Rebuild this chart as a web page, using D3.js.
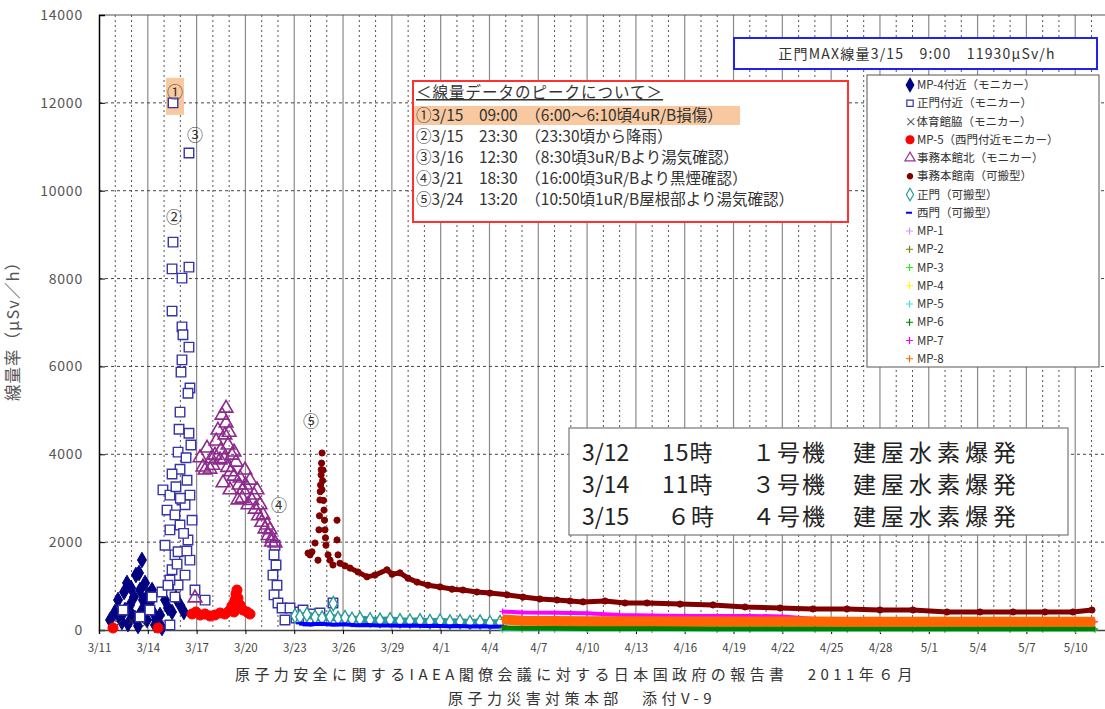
<!DOCTYPE html>
<html>
<head>
<meta charset="utf-8">
<title>線量率</title>
<script src="https://cdn.jsdelivr.net/npm/d3@7"></script>
<style>
  body { margin: 0; background: #fff; }
  text { font-family: "Noto Sans CJK JP", "Liberation Sans", sans-serif; }
</style>
</head>
<body>
<script>
// days are counted from 3/11 00:00, values in μSv/h
const xTickDays = [0, 3, 6, 9, 12, 15, 18, 21, 24, 27, 30, 33, 36, 39, 42, 45, 48, 51, 54, 57, 60];
const xTickLabels = ["3/11","3/14","3/17","3/20","3/23","3/26","3/29","4/1","4/4","4/7","4/10",
                     "4/13","4/16","4/19","4/22","4/25","4/28","5/1","5/4","5/7","5/10"];
const yTicks = [0, 2000, 4000, 6000, 8000, 10000, 12000, 14000];

// MP-4付近(モニカー)
const mp4Monitor = [[0.68,228],[0.98,410],[1.17,683],[1.29,273],[1.41,182],[1.54,865],[1.6,455],[1.72,1070],
  [1.78,137],[1.91,569],[1.97,956],[2.03,341],[2.15,751],[2.21,273],[2.27,1252],[2.40,91],[2.46,1298],
  [2.52,910],[2.58,410],[2.64,1593],[2.70,683],[2.83,1070],[2.89,455],[2.95,228],[3.01,797],[3.13,615],
  [3.26,910],[3.32,410],[3.44,114],[3.50,228],[3.75,341],[3.87,46],[4.06,683],[4.24,501],[4.49,410],
  [4.73,728],[4.98,569],[5.22,410]];

// 正門付近(モニカー)
const seimonMonitor = [[1.48,455],[2.52,296],[3.13,455],[3.26,751],[3.87,865],[4.36,114],[4.67,751],[4.86,1024],
  [4.36,1138],[4.55,12000],[5.53,10860],[4.55,8830],[4.49,8220],[5.53,8260],[5.10,8010],[4.49,7260],
  [5.10,6900],[5.16,6720],[5.53,6440],[5.10,6150],[5.04,5870],[5.59,5510],[5.47,5390],[4.98,4960],
  [4.92,4570],[5.53,4480],[5.65,4210],[4.86,4050],[5.35,3920],[4.98,3660],[4.49,3550],[5.41,3410],
  [3.93,3190],[4.36,3070],[4.73,3260],[5.10,2960],[5.59,3070],[4.18,2730],[4.67,2620],[5.29,2850],
  [5.72,2500],[4.36,2280],[4.98,2390],[5.47,2050],[4.06,1930],[4.67,1710],[4.86,1780],[5.59,1590],
  [4.49,1370],[5.29,1250],[4.24,1020],[5.90,910],[6.52,680],[5.0,3000],[5.2,2200],[4.8,1500],[5.4,1800],
  [10.82,1930],[10.76,1710],[10.88,1480],[10.69,1250],[10.94,1020],[10.76,800],[11.0,615],[11.25,500],
  [11.74,500],[12.35,410],[12.54,455],[13.09,364],[13.58,387],[14.38,615],[12.11,273],[11.43,228],[12.85,205]];

// 体育館脇(モニカー)
const taiikukan = [[1.2,150],[2.0,200],[2.8,120],[3.6,90]];

// MP-5(西門付近モニカー)
const mp5Monitor = [[0.86,46],[3.63,46],[5.72,364],[5.96,410],[6.21,341],[6.52,364],[6.82,319],[7.13,341],
  [7.44,387],[7.74,364],[7.99,432],[8.17,546],[8.30,410],[8.36,683],[8.42,820],[8.48,910],[8.54,728],
  [8.67,569],[8.85,455],[9.10,410],[9.28,364]];

// 事務本館北(モニカー)
const honkanKita = [[5.90,730],[6.21,3920],[6.39,3710],[6.52,3640],[6.64,4140],[6.82,3660],[6.9,3900],
  [7.0,3750],[7.13,3980],[7.2,4300],[7.31,4550],[7.44,3870],[7.5,4100],[7.56,4890],[7.62,3350],[7.7,3900],
  [7.74,4440],[7.81,4710],[7.81,5050],[7.9,3700],[7.93,4210],[8.0,4500],[8.05,3190],[8.1,3600],
  [8.17,3980],[8.3,3500],[8.3,4050],[8.42,3820],[8.54,2960],[8.6,3300],[8.67,3460],[8.8,3000],
  [8.85,3190],[8.97,3640],[9.0,3300],[9.16,2850],[9.28,3410],[9.4,2950],[9.53,3070],[9.6,2750],
  [9.71,3190],[9.8,2600],[9.90,2850],[10.0,2450],[10.08,2620],[10.2,2300],[10.33,2390],[10.4,2150],
  [10.51,2280],[10.6,2000],[10.63,2090],[10.82,1980]];

// 事務本館南(可搬型)
const honkanMinami = [[12.85,1750],[12.97,1710],[13.09,1780],[13.28,1980],[13.46,1590],[13.52,2280],
  [13.55,2600],[13.58,2960],[13.60,3150],[13.62,3300],[13.65,3530],[13.66,3650],[13.68,3800],[13.71,4030],
  [13.74,3400],[13.77,3640],[13.71,3190],[13.80,2950],[13.83,2730],[13.86,2500],[13.89,2280],[13.92,2100],
  [13.95,1930],[14.08,1710],[14.20,1590],[14.38,1480],[14.63,2500],[14.63,2050],[14.69,1710],[14.81,1520],
  [15.12,1460],[15.43,1410],[15.92,1320],[16.47,1210],[16.96,1250],[17.70,1370],[18.01,1270],[18.50,1300],
  [18.99,1180],[19.55,1090],[20.22,1020],[20.96,980],[21.70,930],[22.37,910],[23.23,865],[24.03,840],
  [25.08,800],[26.06,750],[27.10,706],[28.15,683],[28.95,660],[29.75,640],[31.10,660],[32.33,615],
  [33.68,615],[35.71,590],[37.74,570],[39.71,524],[41.86,500],[43.88,478],[45.97,478],[48.00,455],
  [50.03,455],[52.12,410],[54.15,410],[56.18,410],[58.14,410],[59.86,410],[61.03,455]];

// 正門(可搬型)
const seimonPortable = [[12.05,320],[12.35,300],[12.78,350],[13.28,290],[13.71,270],[14.2,300],[14.4,600],
  [14.69,260],[15.12,280],[15.55,240],[16.04,250],[16.66,230],[17.27,220],[17.89,230],[18.5,210],
  [19.11,200],[19.73,210],[20.34,190],[20.96,200],[21.57,180],[22.19,190],[22.8,170],[23.42,180],
  [24.03,160],[24.65,170]];

// 西門(可搬型)
const nishimonPortable = [[12.3,150],[13.0,130],[13.7,140],[14.4,120],[15.1,130],[15.8,110],[16.5,115],
  [17.2,100],[17.9,105],[18.6,95],[19.3,100],[20.0,90],[20.7,95],[21.4,85],[22.1,90],[22.8,80],
  [23.5,85],[24.2,75],[24.9,80]];

// MP-1 ~ MP-8 (from 4/4)
const mpDays = [24.8, 26, 28, 30, 32, 34, 36, 38, 40, 42, 44, 46, 48, 50, 52, 54, 56, 58, 60, 61.2];
const mp1 = [10, 9, 9, 8, 8, 8, 8, 7, 7, 7, 7, 7, 7, 6, 6, 6, 6, 6, 6, 6];
const mp2 = [14, 13, 12, 12, 12, 11, 11, 11, 10, 10, 10, 10, 10, 9, 9, 9, 9, 9, 9, 9];
const mp3 = [22, 20, 20, 19, 18, 18, 17, 17, 16, 16, 16, 15, 15, 15, 15, 14, 14, 14, 14, 14];
const mp4 = [30, 28, 26, 25, 24, 22, 22, 21, 20, 20, 19, 19, 18, 18, 18, 17, 17, 17, 17, 17];
const mp5 = [18, 17, 16, 16, 15, 15, 14, 14, 14, 13, 13, 13, 12, 12, 12, 12, 12, 11, 11, 11];
const mp6 = [45, 40, 38, 36, 34, 33, 32, 31, 30, 30, 29, 29, 28, 28, 27, 27, 26, 26, 26, 26];
const mp7 = [420, 400, 390, 380, 340, 330, 320, 320, 320, 310, 250, 240, 230, 220, 210, 210, 200, 200, 190, 190];
const mp8 = [240, 210, 205, 200, 200, 198, 196, 195, 194, 193, 192, 190, 190, 188, 188, 186, 186, 185, 185, 185];

// legend
const legendNames = ["MP-4付近（モニカー）","正門付近（モニカー）","×体育館脇（モニカー）","MP-5（西門付近モニカー）",
  "事務本館北（モニカー）","事務本館南（可搬型）","正門（可搬型）","西門（可搬型）",
  "MP-1","MP-2","MP-3","MP-4","MP-5","MP-6","MP-7","MP-8"];
const mpColors = ["#cc99ff","#808000","#22ee22","#ffff00","#44dddd","#008000","#ff00ff","#ff6600"];

// peak notes
const peakMarks = [["①",4.67,12250],["②",4.61,9400],["③",5.9,11270],["④",11.06,2850],["⑤",13.03,4760]];
const noteLines = ["①3/15　09:00　（6:00〜6:10頃4uR/B損傷）","②3/15　23:30　（23:30頃から降雨）",
  "③3/16　12:30　（8:30頃3uR/Bより湯気確認）","④3/21　18:30　（16:00頃3uR/Bより黒煙確認）",
  "⑤3/24　13:20　（10:50頃1uR/B屋根部より湯気確認）"];
const blastRows = [["3/12","15時","１号機","建屋水素爆発"],["3/14","11時","３号機","建屋水素爆発"],["3/15","６時","４号機","建屋水素爆発"]];

const W = 1105, H = 709;
const svg = d3.select("body").append("svg").attr("width", W).attr("height", H);

const x = d3.scaleLinear().domain([0, 62]).range([99, 99 + 62 * 16.27]);
const y = d3.scaleLinear().domain([0, 14000]).range([630, 15]);

// grid : a line per day, solid every 3 days
const grid = svg.append("g");
d3.range(1, 62).forEach(function(d) {
  let solid = d % 3 == 0;
  grid.append("line")
    .attr("x1", x(d)).attr("x2", x(d)).attr("y1", y(14000)).attr("y2", y(0))
    .attr("stroke", solid ? "#8a8a8a" : "#555")
    .attr("stroke-width", solid ? 1.2 : 1)
    .attr("stroke-dasharray", solid ? null : "2,3");
});
yTicks.slice(1, -1).forEach(function(v) {
  grid.append("line")
    .attr("x1", x(0)).attr("x2", W).attr("y1", y(v)).attr("y2", y(v))
    .attr("stroke", "#444").attr("stroke-dasharray", "3,3");
});
// top frame
grid.append("line").attr("x1", x(0)).attr("x2", W).attr("y1", y(14000)).attr("y2", y(14000))
  .attr("stroke", "#555");

// highlight behind ①
peakMarks.slice(0, 1).forEach(function(m) {
  svg.append("rect").attr("x", x(m[1]) - 9).attr("y", y(m[2]) - 14).attr("width", 18).attr("height", 37)
    .attr("fill", "#f8c9a0");
});

// axes
const yAxis = svg.append("g").attr("transform", "translate(" + x(0) + ",0)")
  .call(d3.axisLeft(y).tickValues(yTicks).tickSize(-6).tickPadding(16).tickFormat(d3.format("d")));
yAxis.select(".domain").attr("stroke", "#000").attr("stroke-width", 1.5);
yAxis.selectAll("text").attr("font-family", "Liberation Sans").attr("font-size", 14)
  .attr("fill", "#555").attr("letter-spacing", 0.8);

const xAxis = svg.append("g").attr("transform", "translate(0," + y(0) + ")")
  .call(d3.axisBottom(x).tickValues(xTickDays).tickSize(4).tickPadding(10)
    .tickFormat(function(d, i) { return xTickLabels[i]; }));
xAxis.select(".domain").attr("stroke", "#444").attr("stroke-width", 1.5);
xAxis.selectAll("text").attr("font-family", "Liberation Sans").attr("font-size", 11.5).attr("fill", "#444");

// y title
svg.append("text").attr("transform", "translate(19,327) rotate(-90)")
  .attr("text-anchor", "middle").attr("font-size", 16.5).attr("letter-spacing", 1).attr("fill", "#555")
  .text("線量率（μSv／h）");

// clip for marks
svg.append("clipPath").attr("id", "plotclip").append("rect")
  .attr("x", x(0)).attr("y", 0).attr("width", W - x(0)).attr("height", y(0) + 6);
const plot = svg.append("g").attr("clip-path", "url(#plotclip)");

const sym = d3.symbol();
function drawSymbols(data, type, size, fill, stroke, sw) {
  plot.append("g").selectAll("path").data(data).join("path")
    .attr("transform", function(p) { return "translate(" + x(p[0]) + "," + y(p[1]) + ")"; })
    .attr("d", sym.type(type).size(size)())
    .attr("fill", fill).attr("stroke", stroke).attr("stroke-width", sw);
}
function drawPath(data, shape, stroke, sw) {
  plot.append("g").selectAll("path").data(data).join("path")
    .attr("transform", function(p) { return "translate(" + x(p[0]) + "," + y(p[1]) + ")"; })
    .attr("d", shape).attr("fill", "none").attr("stroke", stroke).attr("stroke-width", sw);
}
function drawLine(data, stroke, sw) {
  plot.append("path").datum(data)
    .attr("d", d3.line().x(function(p) { return x(p[0]); }).y(function(p) { return y(p[1]); }))
    .attr("fill", "none").attr("stroke", stroke).attr("stroke-width", sw).attr("stroke-linejoin", "round");
}

drawSymbols(mp4Monitor, d3.symbolDiamond, 70, "#000080", "#000080", 1);
drawSymbols(seimonMonitor, d3.symbolSquare, 90, "#fff", "#3535a8", 1.4);
drawPath(taiikukan, "M-3,-3L3,3M-3,3L3,-3", "#333", 1);
drawSymbols(mp5Monitor, d3.symbolCircle, 80, "#ff0000", "#ff0000", 1);
drawSymbols(honkanKita, d3.symbolTriangle, 80, "none", "#8e2a8e", 1.6);
drawLine(honkanMinami.filter(function(p) { return p[0] > 14.7; }), "#800000", 5);
drawSymbols(honkanMinami, d3.symbolCircle, 30, "#800000", "#800000", 1);
drawLine(seimonPortable.filter(function(p) { return p[1] < 500; }), "#2a9a9a", 7);
drawSymbols(seimonPortable, d3.symbolDiamond, 60, "#fff", "#2a9a9a", 1.4);
drawLine(nishimonPortable, "#0000ff", 4);
drawPath(nishimonPortable, "M-3,0H3", "#0000ff", 2);

[mp1, mp2, mp3, mp4, mp5, mp6, mp7, mp8].forEach(function(vals, i) {
  let pts = mpDays.map(function(d, j) { return [d, vals[j]]; });
  let widths = [3, 3, 4, 4, 4, 5, 4, 10];
  drawLine(pts, mpColors[i], widths[i]);
  drawPath(pts, "M-3,0H3M0,-3V3", mpColors[i], 1.2);
});

// peak marks ①〜⑤
peakMarks.forEach(function(m) {
  svg.append("text").attr("x", x(m[1])).attr("y", y(m[2]) + 6).attr("text-anchor", "middle")
    .attr("font-size", 16).attr("fill", "#333").text(m[0]);
});

// top blue box
svg.append("rect").attr("x", 734).attr("y", 38).attr("width", 363).attr("height", 31)
  .attr("fill", "#fff").attr("stroke", "#2222ee").attr("stroke-width", 2);
svg.append("text").attr("x", 917).attr("y", 59).attr("text-anchor", "middle")
  .attr("font-size", 14).attr("letter-spacing", 1.2).attr("fill", "#333").text("正門MAX線量3/15　9:00　11930μSv/h");

// note box
svg.append("rect").attr("x", 413).attr("y", 81).attr("width", 435).attr("height", 141)
  .attr("fill", "#fff").attr("stroke", "#ff3030").attr("stroke-width", 2);
svg.append("rect").attr("x", 414).attr("y", 106).attr("width", 326).attr("height", 19).attr("fill", "#f8c9a0");
svg.append("text").attr("x", 416).attr("y", 98).attr("font-size", 15.5).attr("letter-spacing", 1).attr("fill", "#333")
  .attr("text-decoration", "underline").text("＜線量データのピークについて＞");
noteLines.forEach(function(t, i) {
  svg.append("text").attr("x", 416).attr("y", 121 + i * 21).attr("font-size", 15.5).attr("fill", "#333").text(t);
});

// legend box
const leg = svg.append("g");
leg.append("rect").attr("x", 867).attr("y", 75).attr("width", 232).attr("height", 292)
  .attr("fill", "#fff").attr("stroke", "#555");
const legShapes = [
  [d3.symbolDiamond, 50, "#000080", "#000080"], [d3.symbolSquare, 40, "#fff", "#3535a8"], null,
  [d3.symbolCircle, 50, "#ff0000", "#ff0000"], [d3.symbolTriangle, 45, "#fff", "#993399"],
  [d3.symbolCircle, 22, "#800000", "#800000"], [d3.symbolDiamond, 45, "#fff", "#2a9a9a"], null];
legendNames.forEach(function(name, i) {
  let ly = 85 + i * 18.25;
  let s = legShapes[i];
  if (i < 8 && s) {
    leg.append("path").attr("transform", "translate(910," + ly + ")").attr("d", d3.symbol().type(s[0]).size(s[1])())
      .attr("fill", s[2]).attr("stroke", s[3]).attr("stroke-width", 1.2);
  } else if (i == 7) {
    leg.append("path").attr("d", "M906," + ly + "H912").attr("stroke", "#0000ff").attr("stroke-width", 2);
  } else if (i >= 8) {
    leg.append("path").attr("d", "M906," + ly + "H913M909.5," + (ly - 3.5) + "V" + (ly + 3.5))
      .attr("stroke", mpColors[i - 8]).attr("stroke-width", 1.2);
  }
  leg.append("text").attr("x", i == 2 ? 905 : 917).attr("y", ly + 4).attr("font-size", 11.5)
    .attr("fill", "#333").text(name);
});

// explosions box
svg.append("rect").attr("x", 569).attr("y", 428).attr("width", 499).attr("height", 107)
  .attr("fill", "#fff").attr("stroke", "#777").attr("stroke-width", 1.2);
const colX = [582, 662, 752, 853];
const colSpacing = [0, 1, 2, 5];
blastRows.forEach(function(r, i) {
  r.forEach(function(t, j) {
    svg.append("text").attr("x", colX[j] + (i == 2 && j == 1 ? 5 : 0)).attr("y", 461 + i * 32)
      .attr("font-size", 23).attr("fill", "#222").attr("letter-spacing", colSpacing[j]).text(t);
  });
});

// footer
svg.append("text").attr("x", 576).attr("y", 680).attr("text-anchor", "middle").attr("font-size", 15)
  .attr("letter-spacing", 4.4).attr("fill", "#333")
  .text("原子力安全に関するIAEA閣僚会議に対する日本国政府の報告書　2011年６月");
svg.append("text").attr("x", 582).attr("y", 704).attr("text-anchor", "middle").attr("font-size", 15)
  .attr("letter-spacing", 4.4).attr("fill", "#333").text("原子力災害対策本部　添付V-9");
</script>
</body>
</html>
